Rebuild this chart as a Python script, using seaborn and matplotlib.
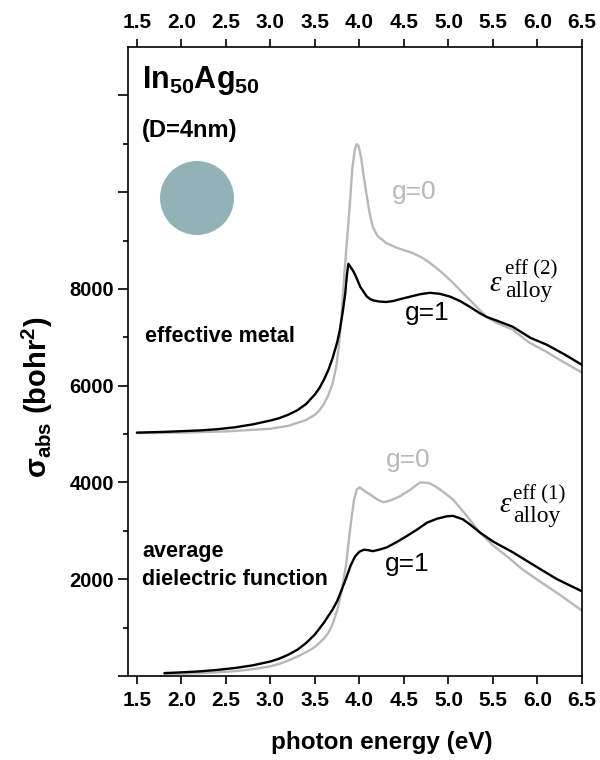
import matplotlib
matplotlib.use("Agg")
import numpy as np
import pandas as pd
import matplotlib.pyplot as plt
import seaborn as sns
from matplotlib.patches import Circle
from matplotlib.ticker import FixedLocator, FuncFormatter

# ---- data ----
# effective metal, g=1 (black)
em_g1_energy = [1.50, 1.80, 2.00, 2.20, 2.40, 2.60, 2.80, 3.00, 3.10, 3.20, 3.30, 3.40, 3.50, 3.55,
                3.60, 3.65, 3.70, 3.75, 3.78, 3.81, 3.84, 3.86, 3.875, 3.89, 3.92, 3.95, 3.98, 4.01,
                4.04, 4.08, 4.12, 4.16, 4.22, 4.30, 4.38, 4.46, 4.57, 4.68, 4.79, 4.90, 5.02, 5.13,
                5.24, 5.35, 5.43, 5.55, 5.72, 5.92, 6.10, 6.30, 6.50]
em_g1_sigma = [5030, 5045, 5060, 5075, 5100, 5140, 5200, 5280, 5330, 5400, 5490, 5620, 5820, 5950,
               6120, 6320, 6580, 6900, 7150, 7500, 7900, 8300, 8520, 8480, 8400, 8300, 8170, 8040,
               7960, 7850, 7790, 7760, 7740, 7730, 7750, 7790, 7840, 7890, 7920, 7900, 7840, 7750,
               7630, 7500, 7420, 7340, 7220, 6990, 6850, 6650, 6430]
# effective metal, g=0 (grey)
em_g0_energy = [1.50, 2.00, 2.50, 3.00, 3.20, 3.40, 3.50, 3.55, 3.60, 3.65, 3.70, 3.74, 3.77, 3.80,
                3.83, 3.86, 3.89, 3.92, 3.95, 3.97, 3.99, 4.02, 4.05, 4.08, 4.11, 4.15, 4.20, 4.30,
                4.42, 4.60, 4.70, 4.79, 4.90, 4.98, 5.08, 5.16, 5.30, 5.43, 5.54, 5.72, 5.90, 6.10,
                6.30, 6.50]
em_g0_sigma = [5020, 5030, 5055, 5110, 5170, 5290, 5400, 5490, 5620, 5800, 6060, 6400, 6850, 7500,
               8300, 9000, 9700, 10500, 10900, 10990, 10960, 10700, 10300, 9950, 9600, 9280, 9100, 8950,
               8850, 8740, 8650, 8540, 8380, 8250, 8070, 7920, 7660, 7420, 7300, 7160, 6900, 6700,
               6480, 6270]
# average dielectric function, g=1 (black)
ad_g1_energy = [1.81, 2.00, 2.20, 2.40, 2.60, 2.80, 3.00, 3.10, 3.20, 3.30, 3.40, 3.50, 3.60, 3.70,
                3.75, 3.80, 3.85, 3.90, 3.95, 4.00, 4.05, 4.10, 4.15, 4.22, 4.31, 4.42, 4.53, 4.65,
                4.76, 4.87, 4.98, 5.05, 5.16, 5.25, 5.35, 5.50, 5.72, 5.95, 6.22, 6.50]
ad_g1_sigma = [60, 75, 95, 125, 165, 220, 300, 360, 440, 540, 680, 860, 1100, 1380,
               1550, 1780, 2020, 2280, 2470, 2570, 2610, 2600, 2580, 2610, 2660, 2770, 2890, 3030,
               3170, 3250, 3300, 3310, 3240, 3120, 2970, 2780, 2560, 2300, 2000, 1750]
# average dielectric function, g=0 (grey)
ad_g0_energy = [1.81, 2.00, 2.20, 2.40, 2.60, 2.80, 3.00, 3.10, 3.20, 3.30, 3.40, 3.50, 3.60, 3.65,
                3.70, 3.75, 3.80, 3.85, 3.88, 3.91, 3.94, 3.97, 4.00, 4.06, 4.12, 4.20, 4.27, 4.35,
                4.45, 4.57, 4.68, 4.78, 4.87, 4.96, 5.05, 5.21, 5.35, 5.50, 5.66, 5.82, 5.99, 6.25,
                6.50]
ad_g0_sigma = [40, 48, 58, 75, 100, 140, 200, 250, 320, 400, 490, 600, 770, 890,
               1080, 1360, 1760, 2300, 2800, 3250, 3650, 3850, 3900, 3820, 3750, 3650, 3590, 3630,
               3710, 3850, 4000, 3990, 3900, 3780, 3650, 3300, 2970, 2700, 2470, 2220, 2000, 1680,
               1350]

x_ticks = [1.5, 2.0, 2.5, 3.0, 3.5, 4.0, 4.5, 5.0, 5.5, 6.0, 6.5]
y_major = [0, 2000, 4000, 6000, 8000, 10000, 12000]
y_minor = [1000, 3000, 5000, 7000, 9000, 11000]
y_labelled = [2000, 4000, 6000, 8000]

# ---- style ----
sns.set_theme(style="ticks")
plt.rcParams["font.family"] = ["Liberation Sans", "DejaVu Sans"]
plt.rcParams["font.weight"] = "bold"
plt.rcParams["text.color"] = "black"
plt.rcParams["axes.labelcolor"] = "black"
plt.rcParams["xtick.color"] = "black"
plt.rcParams["ytick.color"] = "black"
plt.rcParams["mathtext.fontset"] = "custom"
plt.rcParams["mathtext.rm"] = "Liberation Sans:bold"
plt.rcParams["mathtext.bf"] = "Liberation Sans:bold"
plt.rcParams["mathtext.it"] = "Liberation Sans:bold"
plt.rcParams["axes.linewidth"] = 1.2

BLACK = "#000000"
GREY = "#b8b8b8"

fig = plt.figure(figsize=(6.0, 7.6), dpi=100)
ax = fig.add_axes([128 / 600, 1 - 676 / 760, (582 - 128) / 600, (676 - 47) / 760])

curves = [
    (em_g0_energy, em_g0_sigma, GREY),
    (ad_g0_energy, ad_g0_sigma, GREY),
    (em_g1_energy, em_g1_sigma, BLACK),
    (ad_g1_energy, ad_g1_sigma, BLACK),
]
for xs, ys, col in curves:
    df = pd.DataFrame({"energy": xs, "sigma": ys})
    sns.lineplot(data=df, x="energy", y="sigma", ax=ax, color=col, lw=1.7,
                 estimator=None, sort=False)

ax.set_xlim(1.4, 6.5)
ax.set_ylim(0, 13000)
ax.xaxis.set_major_locator(FixedLocator(x_ticks))
ax.xaxis.set_major_formatter(FuncFormatter(lambda v, p: f"{v:.1f}"))
ax.yaxis.set_major_locator(FixedLocator(y_major))
ax.yaxis.set_minor_locator(FixedLocator(y_minor))
ax.yaxis.set_major_formatter(FuncFormatter(lambda v, p: f"{int(round(v))}" if int(round(v)) in y_labelled else ""))

ax.tick_params(axis="x", which="major", direction="out", length=6, width=1.2, top=True,
               labeltop=True, bottom=True, labelbottom=True, labelsize=15, pad=5, colors="black")
ax.tick_params(axis="y", which="major", direction="out", length=7, width=1.2, right=False,
               labelsize=14.5, pad=3, colors="black")
ax.tick_params(axis="y", which="minor", direction="out", length=3.5, width=1.2, right=False, colors="black")
for lab in ax.get_xticklabels() + ax.get_yticklabels():
    lab.set_fontweight("bold")
for s in ax.spines.values():
    s.set_visible(True)
    s.set_color("black")
    s.set_linewidth(1.2)

ax.set_xlabel("photon energy (eV)", fontsize=17.5, fontweight="bold", va="center", color="black")
ax.xaxis.set_label_coords(0.56, -(743 - 676) / 629)
ax.set_ylabel(r"σ$_{\mathrm{abs}}$ (bohr$^{\mathrm{2}}$)", fontsize=21, fontweight="bold",
              va="center", color="black")
ax.yaxis.set_label_coords((37 - 128) / 454, (676 - 397) / 629)


def px2data(px, py):
    return 1.5 + (px - 137) / 89.0, (677 - py) * 20.62


def put(px, py, s, **kw):
    x, y = px2data(px, py)
    ax.text(x, y, s, **kw)


put(142, 88, r"In$_{\mathrm{50}}$Ag$_{\mathrm{50}}$", fontsize=22, fontweight="bold", color="black",
    ha="left", va="baseline")
put(142, 130, "(D=4nm)", fontsize=17, fontweight="bold", color="black", ha="left", va="center")
put(145, 337, "effective metal", fontsize=15.5, fontweight="bold", color="black", ha="left", va="center")
put(142, 552, "average", fontsize=15.5, fontweight="bold", color="black", ha="left", va="center")
put(142, 580, "dielectric function", fontsize=15.5, fontweight="bold", color="black", ha="left", va="center")

put(414, 192, "g=0", fontsize=19, fontweight="normal", color=GREY, ha="center", va="center")
put(427, 313, "g=1", fontsize=19, fontweight="normal", color=BLACK, ha="center", va="center")
put(408, 461, "g=0", fontsize=19, fontweight="normal", color=GREY, ha="center", va="center")
put(407, 565, "g=1", fontsize=19, fontweight="normal", color=BLACK, ha="center", va="center")

serif = ["Liberation Serif", "DejaVu Serif"]
for (ex, ey, sx, sy, ay, tag) in [(489, 291, 505, 275, 297, "eff (2)"),
                                  (499, 513, 513, 500, 523, "eff (1)")]:
    put(ex, ey, "ε", family=serif, fontsize=21, style="italic", fontweight="normal", color="black",
        ha="left", va="baseline")
    put(sx, sy, tag, family=serif, fontsize=15, fontweight="normal", color="black",
        ha="left", va="baseline")
    put(sx, ay, "alloy", family=serif, fontsize=17, fontweight="normal", color="black",
        ha="left", va="baseline")

circ = Circle((1.97, 7.6 - 1.98), 0.37, transform=fig.dpi_scale_trans,
              facecolor="#91b3b5", edgecolor="none")
fig.patches.append(circ)

fig.savefig("out.png", dpi=100)
